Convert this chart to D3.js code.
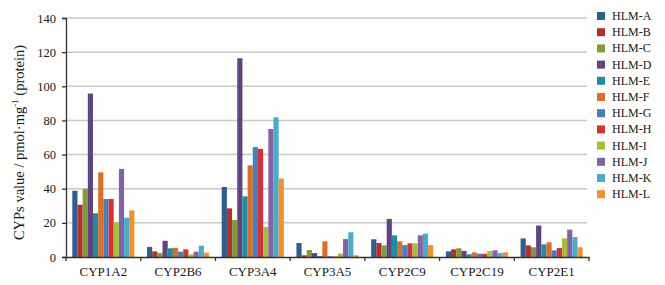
<!DOCTYPE html>
<html>
<head>
<meta charset="utf-8">
<script src="https://cdn.jsdelivr.net/npm/d3@7"></script>
<style>
html,body{margin:0;padding:0;background:#fdfdfb;}
svg{display:block;}
</style>
</head>
<body>
<svg id="chart" width="665" height="285"></svg>
<script>
const categories = ["CYP1A2","CYP2B6","CYP3A4","CYP3A5","CYP2C9","CYP2C19","CYP2E1"];
const seriesNames = ["HLM-A","HLM-B","HLM-C","HLM-D","HLM-E","HLM-F","HLM-G","HLM-H","HLM-I","HLM-J","HLM-K","HLM-L"];
const seriesColors = ["#2f5e8e","#b0312f","#839a3a","#60437f","#1f8da0","#da6f2a","#4a7ebb","#d0343b","#a6be3a","#8264a4","#4badc5","#f0902f"];
const yTicks = [0,20,40,60,80,100,120,140];

const hlmA = [38.8, 5.9, 41.0,  8.2, 10.4, 3.3, 10.9];
const hlmB = [30.6, 3.3, 28.5,  1.0,  8.2, 4.5,  6.8];
const hlmC = [40.0, 2.3, 21.7,  4.1,  6.8, 5.1,  5.7];
const hlmD = [95.7, 9.5, 116.4, 2.3, 22.3, 3.6, 18.4];
const hlmE = [25.6, 5.1, 35.5,  0.6, 12.7, 1.6,  7.4];
const hlmF = [49.6, 5.4, 53.7,  9.2,  9.2, 2.7,  8.6];
const hlmG = [34.0, 3.1, 64.4,  0.5,  7.0, 1.9,  3.9];
const hlmH = [34.0, 4.5, 63.3,  0.3,  8.0, 1.9,  5.3];
const hlmI = [20.3, 1.6, 17.6,  2.0,  8.0, 3.5, 10.9];
const hlmJ = [51.6, 3.1, 75.0, 10.5, 12.7, 3.9, 16.0];
const hlmK = [23.0, 6.6, 81.8, 14.5, 13.7, 2.3, 11.7];
const hlmL = [27.3, 2.5, 45.9,  1.0,  7.0, 2.7,  5.7];
const seriesValues = [hlmA,hlmB,hlmC,hlmD,hlmE,hlmF,hlmG,hlmH,hlmI,hlmJ,hlmK,hlmL];

const FONT = "Liberation Serif";
const svg = d3.select("#chart");
const mLeft = 66, mRight = 589, mTop = 18, mBottom = 257;

const x = d3.scaleBand().domain(categories).range([mLeft, mRight]).padding(0);
const bw = x.bandwidth();
const xs = d3.scaleBand().domain(seriesNames).range([6.3, bw - 6.3]).padding(0);
const y = d3.scaleLinear().domain([0, 140]).range([mBottom, mTop]);

// gridlines
svg.append("g").selectAll("line").data(yTicks.filter(d => d > 0)).join("line")
  .attr("x1", mLeft).attr("x2", mRight - 2)
  .attr("y1", d => y(d)).attr("y2", d => y(d))
  .attr("stroke", "#c9c9c9").attr("stroke-width", 1.5);

// bars
const groups = svg.append("g").selectAll("g").data(categories).join("g")
  .attr("transform", c => `translate(${x(c)},0)`);
groups.selectAll("rect")
  .data((c, ci) => seriesNames.map((s, si) => ({s, si, v: seriesValues[si][ci]})))
  .join("rect")
  .attr("x", d => xs(d.s))
  .attr("width", xs.bandwidth())
  .attr("y", d => y(d.v))
  .attr("height", d => mBottom - y(d.v))
  .attr("fill", d => seriesColors[d.si]);

// y axis
const yAxis = d3.axisLeft(y).tickValues(yTicks).tickSize(4).tickPadding(6).tickFormat(d3.format("d"));
const ya = svg.append("g").attr("transform", `translate(${mLeft},0)`).call(yAxis);
ya.attr("font-family", null).attr("font-size", null);
ya.select(".domain").attr("stroke", "#333").attr("stroke-width", 1.3);
ya.selectAll(".tick line").attr("stroke", "#333").attr("stroke-width", 1.3);
ya.selectAll("text").attr("fill", "#1a1a1a").attr("font-family", FONT).attr("font-size", 12.5);

// x axis
const xAxis = d3.axisBottom(x).tickSize(0).tickPadding(10);
const xa = svg.append("g").attr("transform", `translate(0,${mBottom})`).call(xAxis);
xa.attr("font-family", null).attr("font-size", null);
xa.select(".domain").attr("stroke", "#333").attr("stroke-width", 1.3);
xa.selectAll("text").attr("fill", "#1a1a1a").attr("font-family", FONT).attr("font-size", 13);
const bounds = categories.map(c => x(c)).concat([mRight]);
xa.append("g").selectAll("line").data(bounds).join("line")
  .attr("x1", d => d).attr("x2", d => d).attr("y1", 0).attr("y2", 4)
  .attr("stroke", "#333").attr("stroke-width", 1.3);

// y title
const yt = svg.append("text")
  .attr("transform", `translate(24,${(mTop + mBottom) / 2 + 5}) rotate(-90)`)
  .attr("text-anchor", "middle")
  .attr("font-family", FONT)
  .attr("font-size", 14.5)
  .attr("fill", "#1a1a1a");
yt.append("tspan").text("CYPs value / pmol·mg");
yt.append("tspan").attr("dy", -6).attr("font-size", 9).text("-1");
yt.append("tspan").attr("dy", 6).text(" (protein)");

// legend
const lg = svg.append("g").selectAll("g").data(seriesNames).join("g")
  .attr("transform", (d, i) => `translate(597,${16 + i * 16.2})`);
lg.append("rect").attr("x", 0).attr("y", -4).attr("width", 8).attr("height", 8)
  .attr("fill", (d, i) => seriesColors[i]);
lg.append("text").attr("x", 15).attr("y", 4).attr("font-size", 12)
  .attr("font-family", FONT).attr("fill", "#1a1a1a").text(d => d);
</script>
</body>
</html>
